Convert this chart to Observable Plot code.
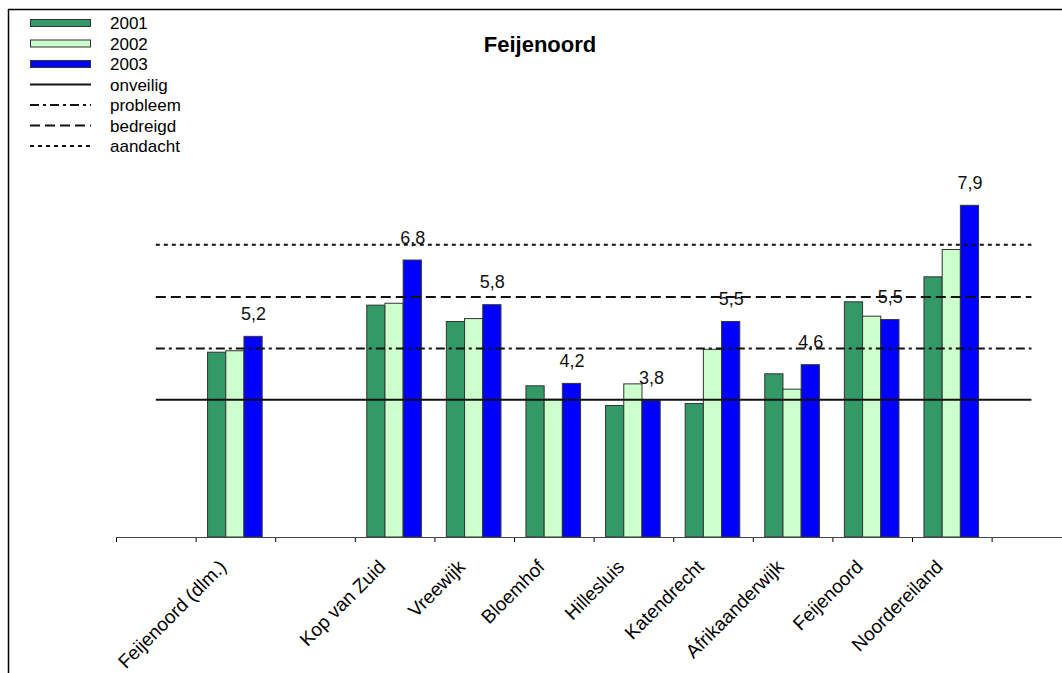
<!DOCTYPE html>
<html>
<head>
<meta charset="utf-8">
<script src="https://cdn.jsdelivr.net/npm/d3@7"></script>
<script src="https://cdn.jsdelivr.net/npm/@observablehq/plot@0.6"></script>
<style>
  html, body { margin: 0; padding: 0; background: #fff; }
  #wrap { position: relative; width: 1062px; height: 673px; overflow: hidden; font-family: "Liberation Sans", Arial, sans-serif; }
  #wrap svg { display: block; }
  #overlay { position: absolute; left: 0; top: 0; pointer-events: none; }
</style>
</head>
<body>
<div id="wrap"></div>
<script>
// ---- data ----
const title = "Feijenoord";
const categories = ["", "Feijenoord (dlm.)", "", "Kop van Zuid", "Vreewijk", "Bloemhof", "Hillesluis", "Katendrecht", "Afrikaanderwijk", "Feijenoord", "Noordereiland", ""];
const years = ["2001", "2002", "2003"];
const v2001 = [null, 4.85, null, 5.83, 5.49, 4.15, 3.74, 3.78, 4.40, 5.90, 6.42, null];
const v2002 = [null, 4.88, null, 5.87, 5.55, 3.87, 4.19, 4.91, 4.08, 5.60, 6.99, null];
const v2003 = [null, 5.18, null, 6.77, 5.84, 4.20, 3.84, 5.49, 4.59, 5.53, 7.91, null];
const levelNames = ["onveilig", "probleem", "bedreigd", "aandacht"];
const levelValues = [3.87, 4.94, 6.01, 7.10];
const yBase = 1;      // value where the category axis crosses
const yTop = 9;

// ---- styles ----
const yearColors = ["#339966", "#CCFFCC", "#0000FF"];
const levelDash = [null, "9,4,3,4", "10,5", "4,4"];
const BAR_W = 0.2287;   // bar width in category units
const GROUP_OFF = 0.15; // offset of first bar inside a category

const series = [v2001, v2002, v2003];
const bars = [];
series.forEach((vals, j) => vals.forEach((v, i) => {
  if (v != null) bars.push({i, j, year: years[j], value: v});
}));
const labels2003 = bars.filter(d => d.j === 2);
const catRows = categories.map((name, i) => ({i, name})).filter(d => d.name);
const levels = levelNames.map((name, k) => ({name, value: levelValues[k], dash: levelDash[k]}));

const chart = Plot.plot({
  width: 1062,
  height: 673,
  marginLeft: 116,
  marginRight: 0,
  marginTop: 153,
  marginBottom: 136,
  style: {fontFamily: "Liberation Sans, Arial, sans-serif", fontSize: "17px", background: "transparent"},
  x: {domain: [0, 11.884], ticks: d3.range(categories.length), tickSize: 5, tickFormat: () => "", label: null},
  y: {domain: [yBase, yTop], axis: null},
  marks: [
    Plot.rect(bars, {
      x1: d => d.i + GROUP_OFF + d.j * BAR_W,
      x2: d => d.i + GROUP_OFF + (d.j + 1) * BAR_W,
      y1: () => yBase,
      y2: "value",
      fill: d => yearColors[d.j],
      stroke: "#333",
      strokeWidth: 1
    }),
    ...levels.map(l => Plot.ruleY([l], {
      y: "value",
      x1: () => 0.5,
      x2: () => categories.length - 0.5,
      stroke: "#111",
      strokeWidth: 2,
      strokeDasharray: l.dash || undefined
    })),
    Plot.ruleY([yBase], {stroke: "#444", strokeWidth: 1}),
    Plot.text(labels2003, {
      x: d => d.i + GROUP_OFF + 2.5 * BAR_W,
      y: "value",
      text: d => d.value.toFixed(1).replace(".", ","),
      lineAnchor: "bottom",
      dy: -17,
      fontSize: 18,
      fill: "#111"
    }),
    Plot.text(catRows, {
      x: d => d.i + 0.5,
      frameAnchor: "bottom",
      text: "name",
      rotate: -45,
      textAnchor: "end",
      lineAnchor: "top",
      dx: -18,
      dy: 21,
      fontSize: 19,
      fill: "#000"
    })
  ]
});

const wrap = document.getElementById("wrap");
wrap.appendChild(chart);

// ---- overlay: frame, title, legend ----
const ov = d3.select(wrap).append("svg")
  .attr("id", "overlay")
  .attr("width", 1062).attr("height", 673)
  .style("font-family", "Liberation Sans, Arial, sans-serif");

ov.append("line").attr("x1", 8).attr("x2", 1062).attr("y1", 9.5).attr("y2", 9.5)
  .attr("stroke", "#000").attr("stroke-width", 1.5);
ov.append("line").attr("x1", 8.5).attr("x2", 8.5).attr("y1", 9).attr("y2", 673)
  .attr("stroke", "#000").attr("stroke-width", 1.5);

ov.append("text").attr("x", 540).attr("y", 52).attr("text-anchor", "middle")
  .attr("font-weight", "bold").attr("font-size", 22).text(title);

const legendItems = [
  ...years.map((y, j) => ({label: y, type: "box", color: yearColors[j]})),
  ...levels.map(l => ({label: l.name, type: "line", dash: l.dash}))
];
legendItems.forEach((it, k) => {
  const cy = 23 + k * 20.5;
  if (it.type === "box") {
    ov.append("rect").attr("x", 30.5).attr("y", cy - 3.5).attr("width", 60).attr("height", 7)
      .attr("fill", it.color).attr("stroke", "#333").attr("stroke-width", 1);
  } else {
    ov.append("line").attr("x1", 30).attr("x2", 91).attr("y1", cy).attr("y2", cy)
      .attr("stroke", "#111").attr("stroke-width", 2)
      .attr("stroke-dasharray", it.dash || null);
  }
  ov.append("text").attr("x", 110).attr("y", cy).attr("dy", "0.36em")
    .attr("font-size", 17).attr("fill", "#000").text(it.label);
});
</script>
</body>
</html>
